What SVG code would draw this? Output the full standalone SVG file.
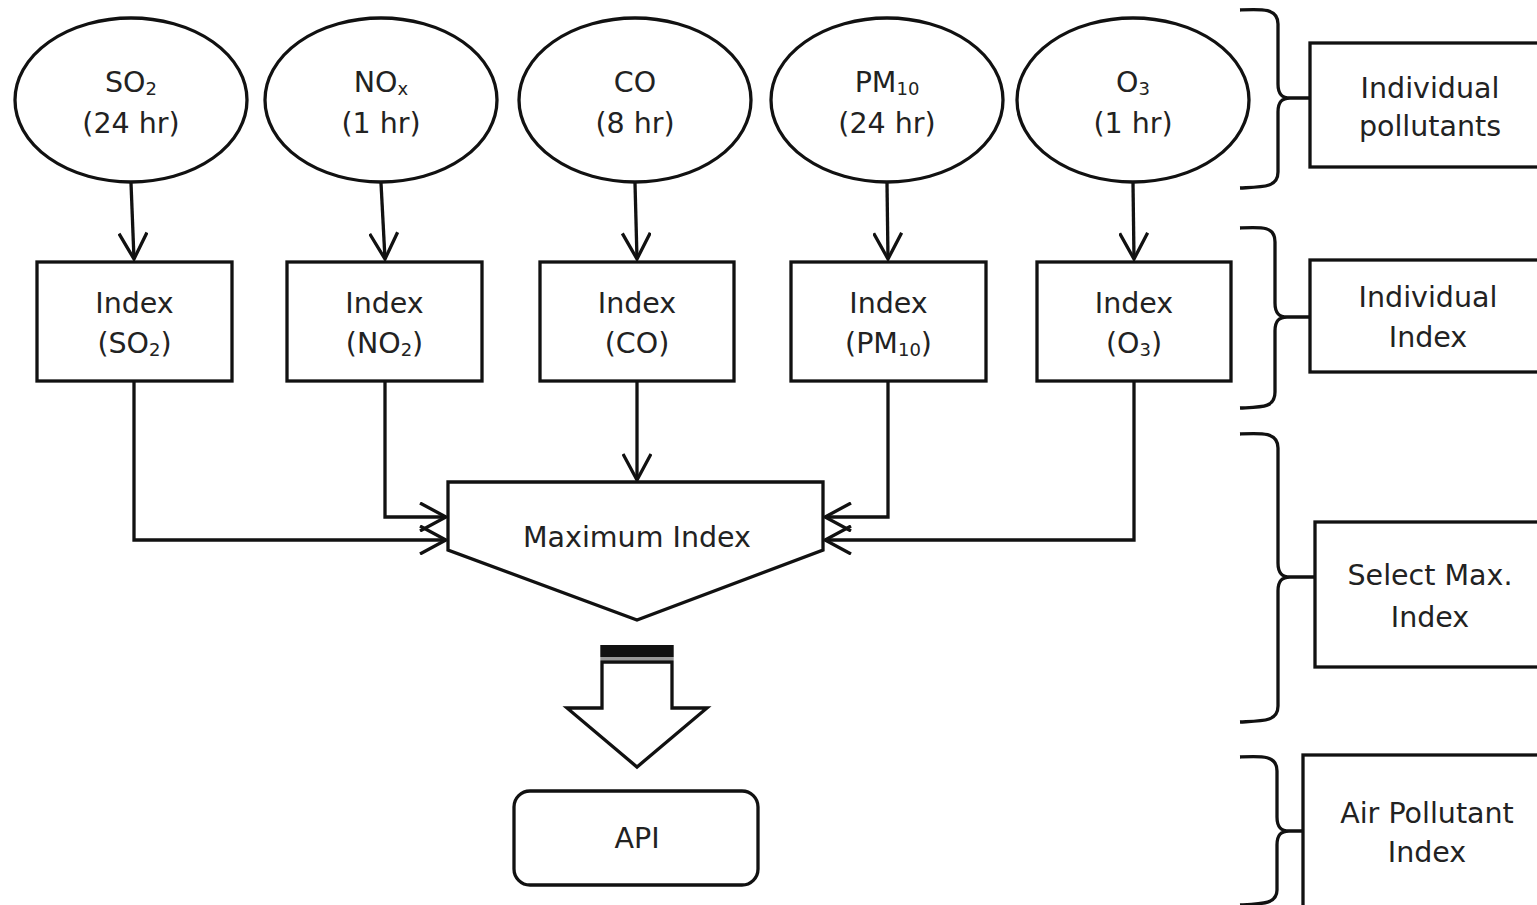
<svg xmlns="http://www.w3.org/2000/svg" width="1537" height="905" viewBox="0 0 1537 905">
<defs>
<style>
.s{fill:#fff;stroke:#111;stroke-width:3.3}
.c{fill:none;stroke:#111;stroke-width:3.3}
.t{font-family:"DejaVu Sans",Verdana,sans-serif;font-size:28.5px;fill:#222;text-anchor:middle}
.sub{font-size:18px}
</style>
<marker id="ah" markerUnits="userSpaceOnUse" viewBox="0 0 30 30" markerWidth="30" markerHeight="30" refX="28" refY="15" orient="auto">
<path d="M2,1 L28,15 L2,29" fill="none" stroke="#111" stroke-width="3.3"/>
</marker>
</defs>
<rect width="1537" height="905" fill="#fff"/>

<g id="connectors">
<path class="c" d="M131,183 L134,259" marker-end="url(#ah)"/>
<path class="c" d="M381,183 L385,259" marker-end="url(#ah)"/>
<path class="c" d="M635,183 L637,259" marker-end="url(#ah)"/>
<path class="c" d="M887,183 L888,259" marker-end="url(#ah)"/>
<path class="c" d="M1133,183 L1134,259" marker-end="url(#ah)"/>
<path class="c" d="M134,381 V540 H446" marker-end="url(#ah)"/>
<path class="c" d="M385,381 V517 H446" marker-end="url(#ah)"/>
<path class="c" d="M637,381 V480" marker-end="url(#ah)"/>
<path class="c" d="M888,381 V517 H825" marker-end="url(#ah)"/>
<path class="c" d="M1134,381 V540 H825" marker-end="url(#ah)"/>
</g>

<g id="n-so2">
<ellipse class="s" cx="131" cy="100" rx="116" ry="82"/>
<text class="t" x="131" y="92">SO<tspan class="sub" dy="3">2</tspan></text>
<text class="t" x="131" y="133">(24 hr)</text>
</g>
<g id="n-nox">
<ellipse class="s" cx="381" cy="100" rx="116" ry="82"/>
<text class="t" x="381" y="92">NO<tspan class="sub" dy="3">x</tspan></text>
<text class="t" x="381" y="133">(1 hr)</text>
</g>
<g id="n-co">
<ellipse class="s" cx="635" cy="100" rx="116" ry="82"/>
<text class="t" x="635" y="92">CO</text>
<text class="t" x="635" y="133">(8 hr)</text>
</g>
<g id="n-pm10">
<ellipse class="s" cx="887" cy="100" rx="116" ry="82"/>
<text class="t" x="887" y="92">PM<tspan class="sub" dy="3">10</tspan></text>
<text class="t" x="887" y="133">(24 hr)</text>
</g>
<g id="n-o3">
<ellipse class="s" cx="1133" cy="100" rx="116" ry="82"/>
<text class="t" x="1133" y="92">O<tspan class="sub" dy="3">3</tspan></text>
<text class="t" x="1133" y="133">(1 hr)</text>
</g>

<g id="i-so2">
<rect class="s" x="37" y="262" width="195" height="119"/>
<text class="t" x="134.5" y="313">Index</text>
<text class="t" x="134.5" y="353">(SO<tspan class="sub" dy="3">2</tspan><tspan dy="-3">)</tspan></text>
</g>
<g id="i-no2">
<rect class="s" x="287" y="262" width="195" height="119"/>
<text class="t" x="384.5" y="313">Index</text>
<text class="t" x="384.5" y="353">(NO<tspan class="sub" dy="3">2</tspan><tspan dy="-3">)</tspan></text>
</g>
<g id="i-co">
<rect class="s" x="540" y="262" width="194" height="119"/>
<text class="t" x="637" y="313">Index</text>
<text class="t" x="637" y="353">(CO)</text>
</g>
<g id="i-pm10">
<rect class="s" x="791" y="262" width="195" height="119"/>
<text class="t" x="888.5" y="313">Index</text>
<text class="t" x="888.5" y="353">(PM<tspan class="sub" dy="3">10</tspan><tspan dy="-3">)</tspan></text>
</g>
<g id="i-o3">
<rect class="s" x="1037" y="262" width="194" height="119"/>
<text class="t" x="1134" y="313">Index</text>
<text class="t" x="1134" y="353">(O<tspan class="sub" dy="3">3</tspan><tspan dy="-3">)</tspan></text>
</g>

<g id="max-index">
<polygon class="s" points="448,482 823,482 823,550 637,620 448,550"/>
<text class="t" x="637" y="547">Maximum Index</text>
</g>

<g id="block-arrow">
<polygon class="s" points="602,662 672,662 672,708 707,708 637,767 567,708 602,708"/>
<rect x="600.3" y="645" width="73.4" height="12" fill="#111"/>
<rect x="600.3" y="657" width="73.4" height="3" fill="#999"/>
</g>

<g id="api">
<rect class="s" x="514" y="791" width="244" height="94" rx="16"/>
<text class="t" x="637" y="848">API</text>
</g>

<g id="lbl-pollutants">
<path class="c" d="M1240,10 C1262,9 1278,8 1278,24 V84 C1278,94 1282,98 1290,98 C1282,98 1278,102 1278,112 V172 C1278,188 1262,187 1240,188 M1288,98 H1310"/>
<rect class="s" x="1310" y="43" width="260" height="124"/>
<text class="t" x="1430" y="98">Individual</text>
<text class="t" x="1430" y="136">pollutants</text>
</g>
<g id="lbl-index">
<path class="c" d="M1240,228 C1262,227 1275,226 1275,242 V303 C1275,313 1279,317 1287,317 C1279,317 1275,321 1275,331 V392 C1275,408 1262,407 1240,408 M1285,317 H1310"/>
<rect class="s" x="1310" y="260" width="260" height="112"/>
<text class="t" x="1428" y="307">Individual</text>
<text class="t" x="1428" y="347">Index</text>
</g>
<g id="lbl-select">
<path class="c" d="M1240,434 C1262,433 1278,432 1278,448 V563 C1278,573 1282,577 1290,577 C1282,577 1278,581 1278,591 V706 C1278,722 1262,721 1240,722 M1288,577 H1315"/>
<rect class="s" x="1315" y="522" width="260" height="145"/>
<text class="t" x="1430" y="585">Select Max.</text>
<text class="t" x="1430" y="627">Index</text>
</g>
<g id="lbl-api">
<path class="c" d="M1240,757 C1262,756 1277,755 1277,771 V817 C1277,827 1281,831 1289,831 C1281,831 1277,835 1277,845 V890 C1277,904 1262,904 1240,905 M1287,831 H1303"/>
<rect class="s" x="1303" y="755" width="260" height="170"/>
<text class="t" x="1427" y="823">Air Pollutant</text>
<text class="t" x="1427" y="862">Index</text>
</g>
</svg>
